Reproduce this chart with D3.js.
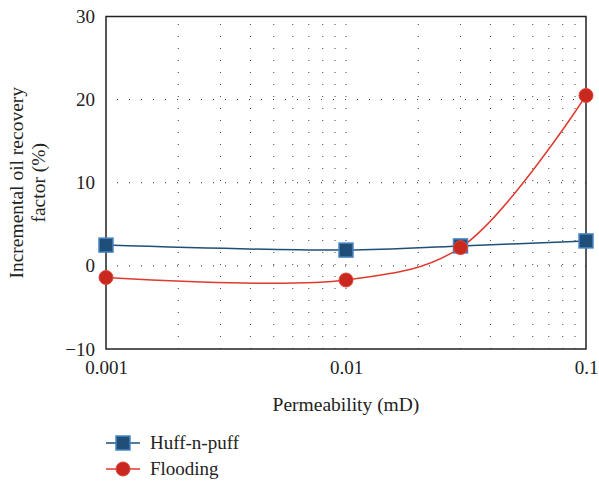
<!DOCTYPE html>
<html><head><meta charset="utf-8">
<script src="https://cdn.jsdelivr.net/npm/d3@7"></script>
<style>body{margin:0;background:#fff}svg{display:block}svg text{font-family:'Liberation Serif','Times New Roman','DejaVu Serif','Noto Serif',Times,serif !important;fill:#222}</style>
</head><body><svg id="c" width="599" height="481"></svg>
<script>
const permeability = [0.001, 0.01, 0.03, 0.1];
const huffNPuff = [2.5, 1.9, 2.4, 3.0];
const flooding = [-1.4, -1.7, 2.2, 20.5];
const yTicks = [-10, 0, 10, 20, 30];
const xTicks = [0.001, 0.01, 0.1];
const seriesNames = ["Huff-n-puff", "Flooding"];

const FONT = "'Liberation Serif','Times New Roman','DejaVu Serif',serif";
const svg = d3.select("#c");
const L = 106, R = 586, T = 16.5, B = 349;
const x = d3.scaleLog().domain([0.001, 0.1]).range([L, R]);
const y = d3.scaleLinear().domain([-10, 30]).range([B, T]);

// grid
const minor = [];
for (let d = 0.001; d < 0.1; d *= 10) for (let k = 1; k <= 9; k++) minor.push(d * k);
const g = svg.append("g");
g.selectAll("line.v").data(minor.filter(v => v > 0.001 && v < 0.1)).join("line")
  .attr("x1", d => x(d)).attr("x2", d => x(d)).attr("y1", B).attr("y2", T)
  .attr("stroke", "#444").attr("stroke-width", 1).attr("stroke-dasharray", "1,11");
g.selectAll("line.h").data([0, 10, 20]).join("line")
  .attr("x1", L).attr("x2", R).attr("y1", d => y(d)).attr("y2", d => y(d))
  .attr("stroke", "#222").attr("stroke-width", 1).attr("stroke-dasharray", "1,11").attr("stroke-dashoffset", -11);

// frame
svg.append("rect").attr("x", L).attr("y", T).attr("width", R - L).attr("height", B - T)
  .attr("fill", "none").attr("stroke", "#222").attr("stroke-width", 1.5);

// axes (labels only)
const ya = svg.append("g").attr("transform", `translate(${L},0)`)
  .call(d3.axisLeft(y).tickValues(yTicks).tickSize(0).tickPadding(11).tickFormat(d => d < 0 ? "\u2212" + Math.abs(d) : d));
ya.attr("font-family", FONT).attr("font-size", 19);
ya.select(".domain").remove();
ya.selectAll("text").attr("fill", "#222");
const xa = svg.append("g").attr("transform", `translate(0,${B})`)
  .call(d3.axisBottom(x).tickValues(xTicks).tickSize(0).tickPadding(12).tickFormat(d => String(d)));
xa.attr("font-family", FONT).attr("font-size", 19);
xa.select(".domain").remove();
xa.selectAll("text").attr("fill", "#222");

svg.append("text").attr("x", (L + R) / 2).attr("y", 411).attr("text-anchor", "middle")
  .attr("font-family", FONT).attr("font-size", 19.5).text("Permeability (mD)");
const yl = svg.append("text").attr("transform", `translate(23,${(T + B) / 2}) rotate(-90)`)
  .attr("text-anchor", "middle").attr("font-family", FONT).attr("font-size", 19.5);
yl.append("tspan").attr("x", 0).attr("dy", 0).text("Incremental oil recovery");
yl.append("tspan").attr("x", 0).attr("dy", 22).text("factor (%)");

const line = d3.line().x(d => x(d[0])).y(d => y(d[1])).curve(d3.curveCatmullRom.alpha(0.5));
const hp = permeability.map((p, i) => [p, huffNPuff[i]]);
const fl = permeability.map((p, i) => [p, flooding[i]]);
svg.append("path").attr("d", line(hp)).attr("fill", "none").attr("stroke", "#1f4e79").attr("stroke-width", 1.5);
svg.append("path").attr("d", line(fl)).attr("fill", "none").attr("stroke", "#e03a2e").attr("stroke-width", 1.5);

function square(sel, cx, cy) {
  sel.append("rect").attr("x", cx - 7).attr("y", cy - 7).attr("width", 14).attr("height", 14)
    .attr("fill", "#1f4e79").attr("stroke", "#4a86c5").attr("stroke-width", 1.5);
}
function circle(sel, cx, cy) {
  sel.append("circle").attr("cx", cx).attr("cy", cy).attr("r", 7)
    .attr("fill", "#c8281e").attr("stroke", "#e0453a").attr("stroke-width", 1);
}
const mk = svg.append("g");
hp.forEach(d => square(mk, x(d[0]), y(d[1])));
fl.forEach(d => circle(mk, x(d[0]), y(d[1])));

// legend
const lg = svg.append("g");
const ly = [443, 469];
lg.append("line").attr("x1", 106).attr("x2", 140).attr("y1", ly[0]).attr("y2", ly[0]).attr("stroke", "#1f4e79").attr("stroke-width", 1.5);
square(lg, 123, ly[0]);
lg.append("line").attr("x1", 106).attr("x2", 140).attr("y1", ly[1]).attr("y2", ly[1]).attr("stroke", "#e03a2e").attr("stroke-width", 1.5);
circle(lg, 123, ly[1]);
seriesNames.forEach((n, i) => lg.append("text").attr("x", 150).attr("y", ly[i] + 6).attr("font-family", FONT).attr("font-size", 19).text(n));
</script></body></html>
